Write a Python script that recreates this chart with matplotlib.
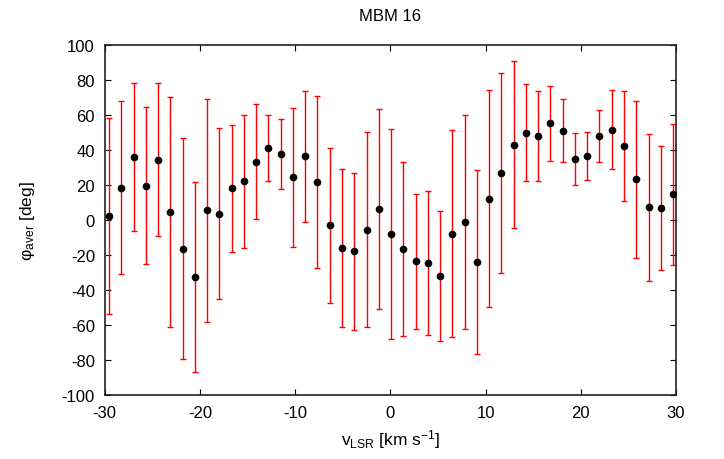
import numpy as np
import matplotlib
matplotlib.use("Agg")
import matplotlib.pyplot as plt

plt.rcParams['font.family'] = ['Liberation Sans', 'DejaVu Sans']
plt.rcParams['axes.unicode_minus'] = False

# velocity channels (km/s)
v_lsr = [-29.55, -28.26, -26.97, -25.69, -24.40, -23.11, -21.82, -20.53,
         -19.25, -17.96, -16.67, -15.38, -14.09, -12.81, -11.52, -10.23,
         -8.94, -7.65, -6.37, -5.08, -3.79, -2.50, -1.21, 0.07,
         1.36, 2.65, 3.94, 5.23, 6.51, 7.80, 9.09, 10.38,
         11.67, 12.95, 14.24, 15.53, 16.82, 18.11, 19.39, 20.68,
         21.97, 23.26, 24.55, 25.83, 27.12, 28.41, 29.70]

# mean angle per channel (deg)
phi_aver = [2.3, 18.5, 35.8, 19.6, 34.5, 4.4, -16.4, -32.6,
            5.5, 3.6, 18.1, 22.1, 33.3, 41.0, 37.7, 24.4,
            36.4, 21.7, -3.0, -16.0, -17.9, -5.5, 6.5, -8.1,
            -16.6, -23.6, -24.4, -32.0, -7.8, -1.3, -24.0, 12.2,
            26.9, 42.9, 49.9, 47.8, 55.2, 51.0, 34.9, 36.6,
            48.0, 51.6, 42.3, 23.2, 7.2, 7.0, 14.7]

# dispersion (deg)
phi_err = [55.9, 49.3, 42.3, 44.9, 43.9, 65.7, 63.1, 54.1,
           63.5, 48.8, 36.3, 38.1, 32.8, 18.9, 20.2, 39.6,
           37.5, 49.1, 44.4, 45.0, 44.7, 55.7, 57.1, 60.1,
           49.5, 38.7, 41.2, 37.1, 59.0, 61.2, 52.6, 62.1,
           57.3, 47.7, 27.7, 25.7, 21.6, 17.9, 15.1, 13.9,
           14.9, 22.5, 31.4, 44.9, 42.1, 35.5, 40.4]

fig = plt.figure(figsize=(7.24, 4.6), dpi=100)
ax = fig.add_axes([0.1446, 0.139, 0.789, 0.761])

ax.errorbar(v_lsr, phi_aver, yerr=phi_err, fmt='none', ecolor='red',
            elinewidth=1.0, capsize=2, capthick=1.0)
ax.plot(v_lsr, phi_aver, 'o', color='black', ms=4.5, zorder=3)

ax.set_xlim(-30, 30)
ax.set_ylim(-100, 100)
ax.set_xticks(np.arange(-30, 31, 10))
ax.set_yticks(np.arange(-100, 101, 20))
ax.tick_params(direction='in', length=4.5, width=0.8, top=True, right=True,
               labelsize=12, pad=7)
for s in ax.spines.values():
    s.set_linewidth(1.2)
    s.set_color('#222222')

ax.set_title('MBM 16', fontsize=12, pad=18)
ax.set_xlabel(r'$\mathregular{v_{LSR}}$ [km s$\mathregular{^{-1}}$]',
              fontsize=12.5, labelpad=5)
ax.set_ylabel(r'$\mathregular{φ_{aver}}$ [deg]', fontsize=12.5, labelpad=18)

fig.savefig('out.png', dpi=100)
